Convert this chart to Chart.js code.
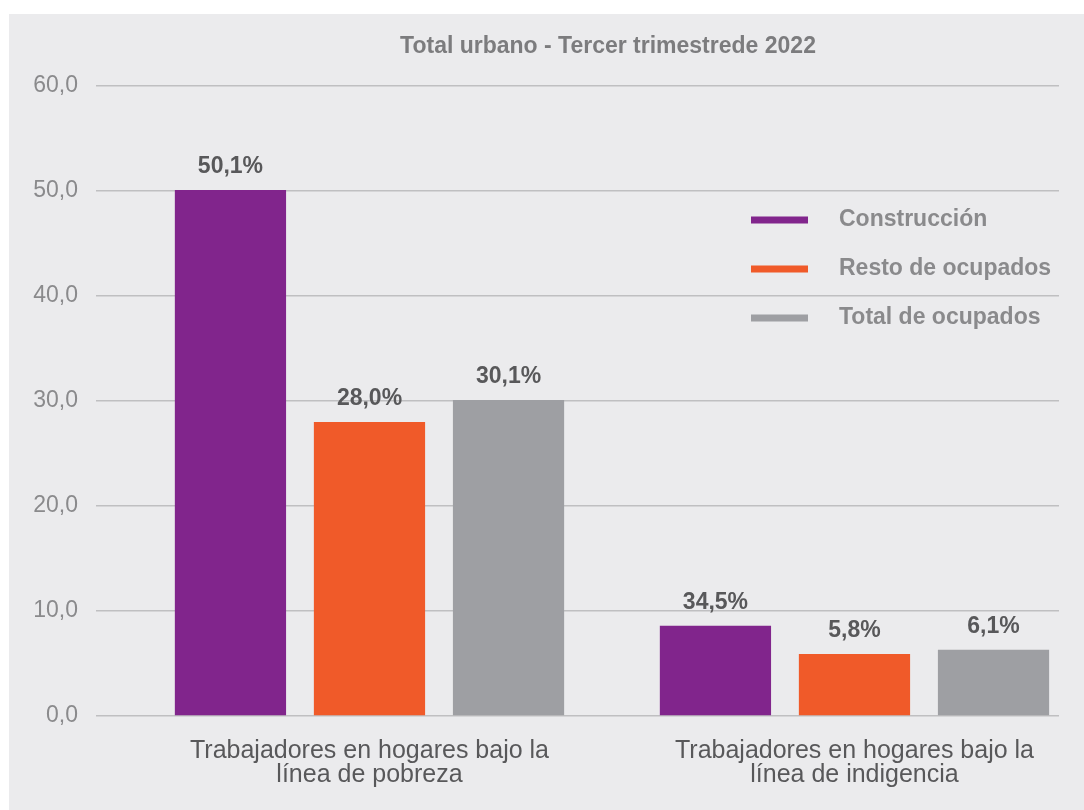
<!DOCTYPE html>
<html>
<head>
<meta charset="utf-8">
<script src="https://cdn.jsdelivr.net/npm/chart.js@4/dist/chart.umd.min.js"></script>
<style>
  html, body { margin: 0; padding: 0; background: #ffffff; }
  #panel { position: absolute; left: 9px; top: 14px; width: 1075px; height: 796px; background: #ebebed; }
  canvas { display: block; }
</style>
</head>
<body>
<div id="panel"><canvas id="chart" width="1075" height="796"></canvas></div>
<script>
const TITLE = 'Total urbano - Tercer trimestrede 2022';

const categories = [
  ['Trabajadores en hogares bajo la', 'línea de pobreza'],
  ['Trabajadores en hogares bajo la', 'línea de indigencia']
];

const seriesNames = ['Construcción', 'Resto de ocupados', 'Total de ocupados'];
const seriesColors = ['#81258c', '#f05a29', '#9e9fa3'];

// bar heights as drawn
const construccion = [50.1, 8.6];
const resto = [28.0, 5.9];
const total = [30.1, 6.3];

// printed value labels (as in the source)
const construccionLabels = ['50,1%', '34,5%'];
const restoLabels = ['28,0%', '5,8%'];
const totalLabels = ['30,1%', '6,1%'];

const yTicks = [0, 10, 20, 30, 40, 50, 60];

const FONT = "'Liberation Sans', Arial, sans-serif";

const toPoints = (values) => values.map((y, i) => ({ x: i, y: y }));

const data = {
  datasets: [
    { label: seriesNames[0], data: toPoints(construccion), valueLabels: construccionLabels, backgroundColor: seriesColors[0] },
    { label: seriesNames[1], data: toPoints(resto), valueLabels: restoLabels, backgroundColor: seriesColors[1] },
    { label: seriesNames[2], data: toPoints(total), valueLabels: totalLabels, backgroundColor: seriesColors[2] }
  ]
};

// value labels above each bar
const valueLabelPlugin = {
  id: 'valueLabels',
  afterDatasetsDraw(chart) {
    const ctx = chart.ctx;
    ctx.save();
    ctx.font = 'bold 23px ' + FONT;
    ctx.fillStyle = '#58585a';
    ctx.textAlign = 'center';
    ctx.textBaseline = 'middle';
    chart.data.datasets.forEach((ds, di) => {
      chart.getDatasetMeta(di).data.forEach((bar, i) => {
        ctx.fillText(ds.valueLabels[i], bar.x, bar.y - 23);
      });
    });
    ctx.restore();
  }
};

// title + line-style legend at the top right
const decorPlugin = {
  id: 'decor',
  afterDraw(chart) {
    const ctx = chart.ctx;
    const area = chart.chartArea;
    ctx.save();
    ctx.font = 'bold 23px ' + FONT;
    ctx.fillStyle = '#7c7c7e';
    ctx.textAlign = 'center';
    ctx.textBaseline = 'middle';
    ctx.fillText(TITLE, 599, 33);

    ctx.font = 'bold 23px ' + FONT;
    ctx.textAlign = 'left';
    chart.data.datasets.forEach((ds, i) => {
      const y = area.top + 134 + i * 49;
      ctx.fillStyle = ds.backgroundColor;
      ctx.fillRect(area.left + 655, y - 3.5, 57, 7);
      ctx.fillStyle = '#8a8a8c';
      ctx.fillText(ds.label, area.left + 743, y);
    });
    ctx.restore();
  }
};

const config = {
  type: 'bar',
  data: data,
  options: {
    responsive: false,
    animation: false,
    layout: { padding: { top: 72, right: 25, left: 0, bottom: 0 } },
    categoryPercentage: 0.86,
    barPercentage: 0.8,
    plugins: {
      legend: { display: false },
      tooltip: { enabled: false }
    },
    scales: {
      x: {
        type: 'linear',
        offset: false,
        min: -0.5639,
        max: 1.4217,
        afterBuildTicks: (scale) => { scale.ticks = categories.map((c, i) => ({ value: i })); },
        afterFit: (scale) => { scale.height = 94; },
        grid: { display: false },
        border: { display: false },
        ticks: {
          padding: 15,
          color: '#58585a',
          maxRotation: 0,
          autoSkip: false,
          font: { family: FONT, size: 25, weight: '500', lineHeight: 0.96 },
          callback: (value) => categories[value]
        }
      },
      y: {
        min: 0,
        max: 60,
        afterBuildTicks: (scale) => { scale.ticks = yTicks.map(v => ({ value: v })); },
        afterFit: (scale) => { scale.width = 87; },
        grid: { color: '#bfbfc1', lineWidth: 1.5, drawTicks: false },
        border: { display: false },
        ticks: {
          padding: 18,
          color: '#8a8a8c',
          font: { family: FONT, size: 23 },
          callback: (value) => value.toFixed(1).replace('.', ',')
        }
      }
    }
  },
  plugins: [valueLabelPlugin, decorPlugin]
};

window.onload = () => {
  new Chart(document.getElementById('chart'), config);
};
</script>
</body>
</html>
